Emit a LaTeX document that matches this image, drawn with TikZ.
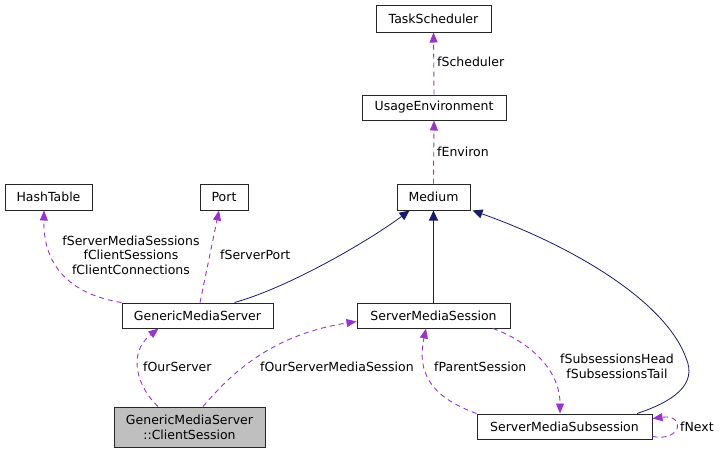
\documentclass[tikz,border=0pt]{standalone}
\usepackage{fontspec}
\setmainfont{DejaVu Sans}
\usetikzlibrary{positioning, arrows.meta}
\definecolor{edgepurple}{RGB}{154, 50, 205}
\definecolor{inheritblue}{RGB}{25, 25, 112}
\definecolor{focusgray}{RGB}{191, 191, 191}
\tikzset{
  classbox/.style={draw=black!85, line width=1pt, fill=white, inner sep=0pt, minimum height=26pt, font=\fontsize{12.5}{15}\selectfont, align=center},
  member/.style={draw=edgepurple, line width=0.9pt, dash pattern=on 5pt off 4pt, -{Triangle[length=10pt, width=8pt]}},
  inherit/.style={draw=inheritblue, line width=0.8pt, -{Triangle[length=10pt, width=9pt]}},
  lbl/.style={inner sep=0pt, font=\fontsize{12.5}{14.5}\selectfont, align=center}
}
\begin{document}
\begin{tikzpicture}[x=1pt, y=-1pt]
\useasboundingbox (0,0) rectangle (720,453);
% classes
\node[classbox, minimum width=115pt, minimum height=27pt] (ts) at (433.5,18.5) {TaskScheduler};
\node[classbox, minimum width=144pt, minimum height=25pt] (ue) at (434,107.5) {UsageEnvironment};
\node[classbox, minimum width=73pt] (med) at (433.5,197) {Medium};
\node[classbox, minimum width=87pt] (hash) at (48.5,197) {HashTable};
\node[classbox, minimum width=48pt] (port) at (224,197) {Port};
\node[classbox, minimum width=151pt, minimum height=25pt] (gms) at (197.5,315.5) {GenericMediaServer};
\node[classbox, minimum width=153pt, minimum height=25pt] (sms) at (433.5,315.5) {ServerMediaSession};
\node[classbox, minimum width=175pt, minimum height=25pt] (smsub) at (564.5,426.5) {ServerMediaSubsession};
\node[classbox, fill=focusgray, minimum width=151pt, minimum height=40pt] (cs) at (189.5,427) {GenericMediaServer\\::ClientSession};
% inheritance
\draw[inherit] ([xshift=37pt]gms.north) .. controls (290,287) and (370,240) .. ([xshift=-24pt]med.south);
\draw[inherit] (sms.north) -- (med.south);
\draw[inherit] ([xshift=72.5pt]smsub.north) .. controls (672,402) and (698,385) .. (686,358)
  .. controls (665,300) and (570,245) .. ([xshift=2pt]med.south east);
% members
\draw[member] (ue.north) -- (ts.south);
\draw[member] (med.north) -- (ue.south);
\draw[member] (gms.north west) .. controls (75,295) and (43,270) .. ([xshift=-4.5pt]hash.south);
\draw[member] ([xshift=2.5pt]gms.north) -- ([xshift=-5pt]port.south);
\draw[member] ([xshift=-31.5pt]cs.north) .. controls (140,390) and (125,355) .. ([xshift=-39pt]gms.south);
\draw[member] ([xshift=13.5pt]cs.north) .. controls (230,375) and (270,335) .. ([yshift=-6pt]sms.west);
\draw[member] (smsub.north west) .. controls (440,400) and (415,380) .. ([xshift=-7.5pt]sms.south);
\draw[member] ([xshift=59.5pt]sms.south) .. controls (530,342) and (560,370) .. ([xshift=-4.5pt]smsub.north);
\draw[member] ([yshift=-10pt]smsub.east) .. controls (682,442) and (686,414) .. ([yshift=8pt]smsub.east);
% labels
\node[lbl, anchor=west] (lsched) at (437,62) {fScheduler};
\node[lbl, anchor=west] (lenv) at (437,152) {fEnviron};
\node[lbl] (lhash) at (131,255) {fServerMediaSessions\\fClientSessions\\fClientConnections};
\node[lbl, anchor=west] (lport) at (220,255) {fServerPort};
\node[lbl, anchor=west] (lsrv) at (143,367) {fOurServer};
\node[lbl, anchor=west] (lsess) at (260,367) {fOurServerMediaSession};
\node[lbl, anchor=west] (lparent) at (434,367) {fParentSession};
\node[lbl] (lsub) at (617,366.5) {fSubsessionsHead\\fSubsessionsTail};
\node[lbl, anchor=west] (lnext) at (680,427) {fNext};
\end{tikzpicture}
\end{document}
